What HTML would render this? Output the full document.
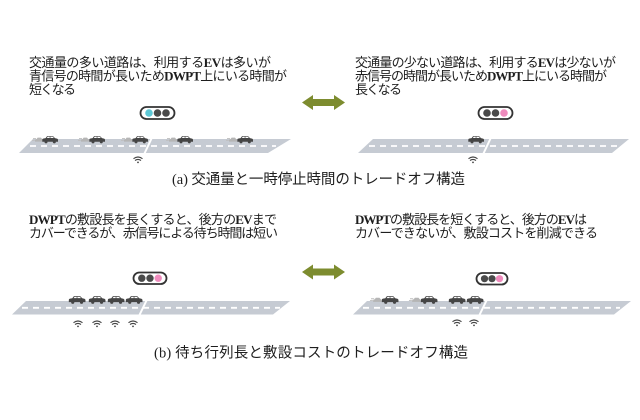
<!DOCTYPE html>
<html><head><meta charset="utf-8">
<style>
html,body{margin:0;padding:0;background:#fff;}
svg{display:block;}
.t{font-family:"Liberation Sans","Noto Sans CJK JP",sans-serif;font-size:13px;fill:#1e1e1e;}
.c{font-family:"Liberation Serif","Noto Sans CJK JP",sans-serif;font-size:14.5px;fill:#1e1e1e;}
.l{font-family:"Liberation Serif",serif;font-weight:bold;}
</style></head>
<body>
<svg width="640" height="420" viewBox="0 0 640 420" xmlns="http://www.w3.org/2000/svg">
<defs>
  <g id="car">
    <path d="M0.3,5.8 L0.3,3.6 Q0.3,2.7 1.5,2.5 L3.6,2.1 L5.1,0.1 L11,0.1 L13,2.1 L15,2.6 Q16,2.8 16,3.9 L16,5.8 Z" fill="#454545"/>
    <path d="M5.7,0.8 L7.7,0.8 L7.7,2 L4.8,2 Z M8.4,0.8 L10.7,0.8 L11.9,2 L8.4,2 Z" fill="#fff"/>
    <circle cx="4" cy="5.9" r="1.5" fill="#454545"/>
    <circle cx="12.3" cy="5.9" r="1.5" fill="#454545"/>
  </g>
  <g id="ghost">
    <path d="M2,5.6 L2,3.8 L3.5,3.1 L4.6,1.6 L8,1.6 L9.2,3.1 L10,3.5 L10,5.6 Z" fill="#b5b5b5"/>
    <path d="M0,2.6 L3,2.6 M-1,4.3 L1.8,4.3" stroke="#bdbdbd" stroke-width="0.9"/>
  </g>
  <g id="wifi" fill="none" stroke="#444" stroke-width="1.1">
    <path d="M-4.5,-1.3 Q0,-4.7 4.5,-1.3"/>
    <path d="M-3,0.5 Q0,-1.7 3,0.5"/>
    <circle cx="0" cy="2.4" r="0.9" fill="#444" stroke="none"/>
  </g>
</defs>

<!-- ============ (a) ============ -->
<text class="t" x="29" y="67" textLength="242" lengthAdjust="spacing">交通量の多い道路は、利用する<tspan class="l">EV</tspan>は多いが</text>
<text class="t" x="29" y="80.5" textLength="258" lengthAdjust="spacing">青信号の時間が長いため<tspan class="l">DWPT</tspan>上にいる時間が</text>
<text class="t" x="29" y="94" textLength="47" lengthAdjust="spacing">短くなる</text>

<text class="t" x="355" y="67" textLength="261" lengthAdjust="spacing">交通量の少ない道路は、利用する<tspan class="l">EV</tspan>は少ないが</text>
<text class="t" x="355" y="80.5" textLength="252" lengthAdjust="spacing">赤信号の時間が長いため<tspan class="l">DWPT</tspan>上にいる時間が</text>
<text class="t" x="355" y="94" textLength="47" lengthAdjust="spacing">長くなる</text>

<!-- arrow a -->
<path d="M302,102.5 L313,95 L313,99 L334,99 L334,95 L345,102.5 L334,110 L334,106 L313,106 L313,110 Z" fill="#7d8c2f"/>

<!-- traffic light a-left -->
<rect x="140.5" y="107" width="34" height="12" rx="6" fill="#fff" stroke="#333" stroke-width="1.8"/>
<circle cx="149" cy="113" r="3.8" fill="#5ec8d6"/>
<circle cx="157.5" cy="113" r="3.8" fill="#4a4a4a"/>
<circle cx="166" cy="113" r="3.8" fill="#4a4a4a"/>
<!-- traffic light a-right -->
<rect x="478.5" y="107" width="34" height="12" rx="6" fill="#fff" stroke="#333" stroke-width="1.8"/>
<circle cx="487" cy="113" r="3.8" fill="#4a4a4a"/>
<circle cx="495.5" cy="113" r="3.8" fill="#4a4a4a"/>
<circle cx="504" cy="113" r="3.8" fill="#ef8bbd"/>

<!-- road a-left -->
<polygon points="33,139 291,139 268,153 19,153" fill="#c6cbd3"/>
<line x1="30" y1="146" x2="276" y2="146" stroke="#fff" stroke-width="1.8" stroke-dasharray="6,5"/>
<line x1="152" y1="137.5" x2="144" y2="154.5" stroke="#fff" stroke-width="2"/>
<!-- road a-right -->
<polygon points="373,139 629,139 612,153 358,153" fill="#c6cbd3"/>
<line x1="369" y1="146" x2="618" y2="146" stroke="#fff" stroke-width="1.8" stroke-dasharray="6,5"/>
<line x1="491" y1="137.5" x2="483" y2="154.5" stroke="#fff" stroke-width="2"/>

<!-- cars a-left -->
<use href="#ghost" x="33" y="136"/><use href="#car" x="42" y="136"/>
<use href="#ghost" x="79" y="136"/><use href="#car" x="89" y="136"/>
<use href="#ghost" x="122" y="136"/><use href="#car" x="132" y="136"/>
<use href="#ghost" x="167" y="136"/><use href="#car" x="177" y="136"/>
<use href="#ghost" x="227" y="136"/><use href="#car" x="237" y="136"/>
<!-- car a-right -->
<use href="#car" x="468" y="136"/>

<use href="#wifi" x="138" y="160"/>
<use href="#wifi" x="473" y="160"/>

<text class="c" x="172" y="184" textLength="293" lengthAdjust="spacing">(a) 交通量と一時停止時間のトレードオフ構造</text>

<!-- ============ (b) ============ -->
<text class="t" x="29" y="224" textLength="248" lengthAdjust="spacing"><tspan class="l">DWPT</tspan>の敷設長を長くすると、後方の<tspan class="l">EV</tspan>まで</text>
<text class="t" x="29" y="237.5" textLength="249" lengthAdjust="spacing">カバーできるが、赤信号による待ち時間は短い</text>

<text class="t" x="355" y="224" textLength="232" lengthAdjust="spacing"><tspan class="l">DWPT</tspan>の敷設長を短くすると、後方の<tspan class="l">EV</tspan>は</text>
<text class="t" x="355" y="237.5" textLength="243" lengthAdjust="spacing">カバーできないが、敷設コストを削減できる</text>

<!-- arrow b -->
<path d="M302,272 L313,264.5 L313,268.5 L334,268.5 L334,264.5 L345,272 L334,279.5 L334,275.5 L313,275.5 L313,279.5 Z" fill="#7d8c2f"/>

<!-- traffic light b-left -->
<rect x="133.5" y="272.5" width="33" height="11.5" rx="5.8" fill="#fff" stroke="#333" stroke-width="1.8"/>
<circle cx="141.8" cy="278.2" r="3.7" fill="#4a4a4a"/>
<circle cx="150" cy="278.2" r="3.7" fill="#4a4a4a"/>
<circle cx="158.2" cy="278.2" r="3.7" fill="#ef8bbd"/>
<!-- traffic light b-right -->
<rect x="476.5" y="273" width="31" height="11.5" rx="5.8" fill="#fff" stroke="#333" stroke-width="1.8"/>
<circle cx="484.5" cy="278.7" r="3.6" fill="#4a4a4a"/>
<circle cx="492" cy="278.7" r="3.6" fill="#4a4a4a"/>
<circle cx="499.5" cy="278.7" r="3.6" fill="#ef8bbd"/>

<!-- road b-left -->
<polygon points="26,301 290,301 273,314.5 12,314.5" fill="#c6cbd3"/>
<line x1="22" y1="307.8" x2="280" y2="307.8" stroke="#fff" stroke-width="1.8" stroke-dasharray="6,5"/>
<line x1="147" y1="299.5" x2="139" y2="316" stroke="#fff" stroke-width="2"/>
<!-- road b-right -->
<polygon points="367,301 631,301 614,314.5 353,314.5" fill="#c6cbd3"/>
<line x1="363" y1="307.8" x2="620" y2="307.8" stroke="#fff" stroke-width="1.8" stroke-dasharray="6,5"/>
<line x1="487" y1="299.5" x2="479" y2="316" stroke="#fff" stroke-width="2"/>

<!-- cars b-left -->
<use href="#car" transform="translate(68.5,296) scale(1.06)"/>
<use href="#car" transform="translate(88.5,296) scale(1.06)"/>
<use href="#car" transform="translate(107.5,296) scale(1.06)"/>
<use href="#car" transform="translate(125.5,296) scale(1.06)"/>
<!-- cars b-right -->
<use href="#ghost" transform="translate(371,296) scale(1.06)"/>
<use href="#car" transform="translate(381.5,296) scale(1.06)"/>
<use href="#ghost" transform="translate(410,296) scale(1.06)"/>
<use href="#car" transform="translate(420.5,296) scale(1.06)"/>
<use href="#car" transform="translate(448.5,296) scale(1.06)"/>
<use href="#car" transform="translate(466.5,296) scale(1.06)"/>

<use href="#wifi" x="78" y="324"/>
<use href="#wifi" x="97" y="324"/>
<use href="#wifi" x="115" y="324"/>
<use href="#wifi" x="133" y="324"/>
<use href="#wifi" x="457" y="323"/>
<use href="#wifi" x="474" y="323"/>

<text class="c" x="154" y="357.5" textLength="314" lengthAdjust="spacing">(b) 待ち行列長と敷設コストのトレードオフ構造</text>
</svg>
</body></html>
